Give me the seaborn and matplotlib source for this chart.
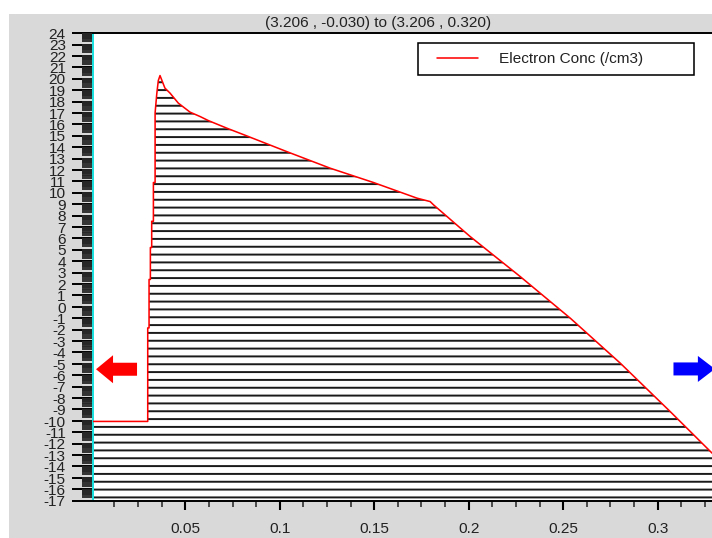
import math
import matplotlib
matplotlib.use("Agg")
import matplotlib.pyplot as plt
import pandas as pd
import seaborn as sns
from matplotlib.ticker import FixedLocator, FixedFormatter, NullFormatter
from matplotlib.patches import Rectangle, Polygon
from matplotlib.legend_handler import HandlerLine2D

# Position along the cut line (um) and log10 of electron concentration (/cm3)
position = [0.0013, 0.0301, 0.0301, 0.0308, 0.0308, 0.0315, 0.0315, 0.0322,
            0.0322, 0.0331, 0.0331, 0.0340, 0.0340, 0.0349, 0.0357, 0.0366,
            0.0375, 0.0392, 0.0419, 0.0463, 0.0525, 0.0579, 0.0622, 0.0719,
            0.0825, 0.1037, 0.1266, 0.1496, 0.1726, 0.1796, 0.1814, 0.1920,
            0.2008, 0.2273, 0.2538, 0.2803, 0.3067, 0.3289]
log_conc = [-10.05, -10.05, -1.85, -1.85, 2.4, 2.4, 5.2, 5.2,
            7.5, 7.5, 10.9, 10.9, 17.0, 18.7, 19.84, 20.28,
            19.9, 19.18, 18.74, 17.86, 17.07, 16.68, 16.33, 15.67,
            14.99, 13.61, 12.16, 10.9, 9.53, 9.23, 8.94, 7.42,
            6.16, 2.65, -1.0, -4.95, -9.19, -12.84]

x_major_ticks = [0.05, 0.1, 0.15, 0.2, 0.25, 0.3]
x_tick_labels = ["0.05", "0.1", "0.15", "0.2", "0.25", "0.3"]
x_minor_step = 0.0125
decades = list(range(-17, 25))
x_range = (0.0013, 0.3289)
series_name = "Electron Conc (/cm3)"
cut_line = "(3.206 , -0.030) to (3.206 , 0.320)"

sns.set_style("white")
plt.rcParams["font.family"] = ["Liberation Sans", "DejaVu Sans"]
plt.rcParams["hatch.linewidth"] = 1.5
plt.rcParams["axes.unicode_minus"] = False

FS = 11.8
DPI = 94
W, H = 712, 538
fig = plt.figure(figsize=(W / DPI + 0.002, H / DPI + 0.002), dpi=DPI, facecolor="white")

# grey panel behind the plot
fig.patches.append(Rectangle((9 / W, 0), 1, 1 - 14 / H, transform=fig.transFigure,
                             facecolor="#d9d9d9", edgecolor="none", zorder=-10))

ax_left, ax_top, ax_bottom = 93.3, 33.3, 500.7
ax = fig.add_axes([ax_left / W, 1 - ax_bottom / H, 1 - ax_left / W, (ax_bottom - ax_top) / H])
ax.set_facecolor("white")

df = pd.DataFrame({"position": position, "log_conc": log_conc})
floor = decades[0]

ax.fill_between(df["position"], df["log_conc"], floor, facecolor="none",
                edgecolor="#1a1a1a", hatch="--", linewidth=0, zorder=1)
sns.lineplot(data=df, x="position", y="log_conc", estimator=None, sort=False,
             color="red", linewidth=1.2, ax=ax, label=series_name, zorder=3)

ax.set_xlim(*x_range)
ax.set_ylim(decades[0], decades[-1])
ax.set_xlabel("")
ax.set_ylabel("")

# x axis: labelled major ticks with minor ticks in between
ax.xaxis.set_major_locator(FixedLocator(x_major_ticks))
ax.xaxis.set_major_formatter(FixedFormatter(x_tick_labels))
n_minor = int(round(x_range[1] / x_minor_step)) + 1
ax.xaxis.set_minor_locator(FixedLocator([i * x_minor_step for i in range(n_minor)]))
ax.tick_params(axis="x", which="major", length=6.9, width=1.6, pad=9.5,
               labelsize=FS, colors="black", labelcolor="#222222")
ax.tick_params(axis="x", which="minor", length=4.6, width=1.2)

# y axis: one decade per integer with log-spaced minor ticks
y_minor = [d + math.log10(k) for d in decades[:-1] for k in range(2, 10)]
ax.yaxis.set_major_locator(FixedLocator(decades))
ax.yaxis.set_major_formatter(FixedFormatter([str(d) for d in decades]))
ax.yaxis.set_minor_locator(FixedLocator(y_minor))
ax.yaxis.set_minor_formatter(NullFormatter())
ax.tick_params(axis="y", which="major", length=16.1, width=1.5, pad=5.0,
               labelsize=FS, colors="black", labelcolor="#222222")
ax.tick_params(axis="y", which="minor", length=8.4, width=1.4)
ax.tick_params(which="both", direction="out", left=True, bottom=True, top=False, right=False)
for lab in ax.get_yticklabels():
    lab.set_family(["Liberation Sans Narrow", "Liberation Sans", "DejaVu Sans"])

for side in ("top", "bottom"):
    ax.spines[side].set_color("black")
    ax.spines[side].set_linewidth(1.5)
ax.spines["left"].set_color("#19e0e0")
ax.spines["left"].set_linewidth(1.5)
ax.spines["right"].set_visible(False)

# legend box in the upper right
leg = ax.legend(loc="upper left",
                bbox_to_anchor=(417.7 / W, 1 - 79.0 / H, 276.3 / W, 35.7 / H),
                bbox_transform=fig.transFigure, mode="expand", borderaxespad=0,
                fontsize=FS, frameon=True, fancybox=False, framealpha=1,
                edgecolor="black", borderpad=0.58, handlelength=3.33,
                handletextpad=1.38,
                handler_map={plt.Line2D: HandlerLine2D(xpad=0.67)})
leg.get_frame().set_linewidth(1.2)
for t in leg.get_texts():
    t.set_color("#222222")

fig.text(377.5 / W, 1 - 22.5 / H, cut_line, ha="center", va="center",
         fontsize=FS, color="#222222")


def arrow(tail_px, tip_px, yc_px, body_h, head_h, head_len, color):
    # arrow outline given in image pixels (origin top-left)
    d = 1 if tip_px > tail_px else -1
    base = tip_px - d * head_len
    pts = [(tail_px, yc_px - body_h / 2), (base, yc_px - body_h / 2),
           (base, yc_px - head_h / 2), (tip_px, yc_px),
           (base, yc_px + head_h / 2), (base, yc_px + body_h / 2),
           (tail_px, yc_px + body_h / 2)]
    verts = [(px / W, 1 - py / H) for px, py in pts]
    fig.patches.append(Polygon(verts, closed=True, transform=fig.transFigure,
                               facecolor=color, edgecolor="none", zorder=5))


arrow(137, 96, 369.3, 13, 28, 17, "#ff0000")
arrow(673.3, 714.7, 369, 13, 26, 17, "#0000ff")

fig.savefig("out.png", dpi=DPI, facecolor=fig.get_facecolor())
